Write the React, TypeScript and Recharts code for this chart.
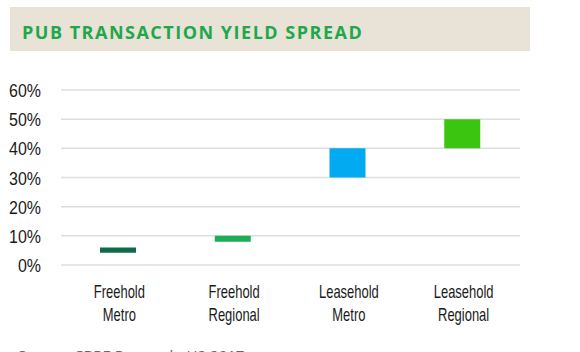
import React from "react";
import { BarChart, Bar, XAxis, YAxis, CartesianGrid, Cell } from "recharts";

const categories = ["Freehold Metro", "Freehold Regional", "Leasehold Metro", "Leasehold Regional"];
const spreadLow = [4.2, 8, 30, 40];
const spreadHigh = [6, 10, 40, 50];
const yTicks = [0, 10, 20, 30, 40, 50, 60];

const barColors = ["#0e6b47", "#1cad57", "#02aaf1", "#3bc511"];
const labelFont = "'Liberation Sans', Arial, sans-serif";

const data = categories.map((name, i) => ({
  name,
  range: [spreadLow[i], spreadHigh[i]],
}));

// condensed look: squeeze the text horizontally
function CategoryTick(props: any) {
  const { x, y, payload } = props;
  const words = String(payload.value).split(" ");
  return (
    <g transform={`translate(${x + 1},${y}) scale(0.72,1)`}>
      <text x={0} y={0} textAnchor="middle" fill="#1a1a1a" fontSize={18} fontFamily={labelFont}>
        {words.map((w, i) => (
          <tspan key={i} x={0} dy={i === 0 ? 25 : 23}>
            {w}
          </tspan>
        ))}
      </text>
    </g>
  );
}

function PercentTick(props: any) {
  const { x, y, payload } = props;
  return (
    <g transform={`translate(${x},${y}) scale(0.84,1)`}>
      <text x={0} y={0} dy={7} textAnchor="end" fill="#1a1a1a" fontSize={19} fontFamily={labelFont}>
        {`${payload.value}%`}
      </text>
    </g>
  );
}

export default function App() {
  return (
    <div style={{ position: "fixed", left: 0, top: 0, width: 580, height: 352, background: "#fff", overflow: "hidden" }}>
      <div
        style={{
          position: "absolute",
          left: 10,
          top: 7,
          width: 520,
          height: 44,
          background: "#e8e2d7",
        }}
      />
      <div
        style={{
          position: "absolute",
          left: 22,
          top: 20,
          fontFamily: "'Open Sans', sans-serif",
          fontWeight: 700,
          fontSize: 18,
          letterSpacing: 1.5,
          color: "#1ea84b",
          whiteSpace: "nowrap",
        }}
      >
        PUB TRANSACTION YIELD SPREAD
      </div>
      <div style={{ position: "absolute", left: 0, top: 0 }}>
        <BarChart width={580} height={352} data={data} margin={{ top: 90, right: 60, left: 0, bottom: 57 }}>
          <CartesianGrid horizontal vertical={false} stroke="#dedede" strokeWidth={1.5} />
          <XAxis dataKey="name" axisLine={false} tickLine={false} interval={0} tick={<CategoryTick />} height={30} />
          <YAxis
            type="number"
            domain={[0, 60]}
            ticks={yTicks}
            interval={0}
            axisLine={false}
            tickLine={false}
            width={61}
            tickMargin={14}
            tick={<PercentTick />}
          />
          <Bar dataKey="range" barSize={36} isAnimationActive={false}>
            {data.map((d, i) => (
              <Cell key={d.name} fill={barColors[i]} />
            ))}
          </Bar>
        </BarChart>
      </div>
      <div
        style={{
          position: "absolute",
          left: 18,
          top: 345,
          fontFamily: "'Open Sans', sans-serif",
          fontSize: 15,
          color: "#666",
          whiteSpace: "nowrap",
        }}
      >
        Source: CBRE Research, H2 2017
      </div>
    </div>
  );
}
